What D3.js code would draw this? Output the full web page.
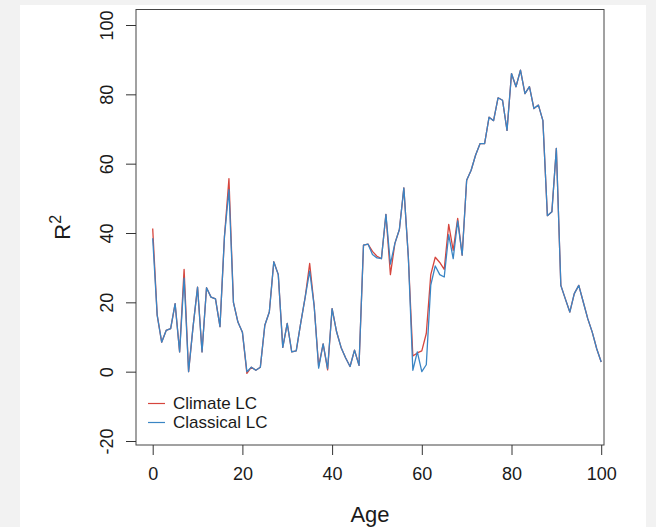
<!DOCTYPE html>
<html>
<head>
<meta charset="utf-8">
<script src="https://cdn.jsdelivr.net/npm/d3@7/dist/d3.min.js"></script>
<style>
  html, body { margin: 0; padding: 0; background: #f2f2f2; }
  svg { display: block; }
  text { font-family: "Liberation Sans", Arial, Helvetica, sans-serif; fill: #1a1a1a; }
</style>
</head>
<body>
<svg id="chart" width="656" height="527"></svg>
<script>
const ages = d3.range(0, 101);
const climateLC = [
  41.3, 16.3, 8.5, 11.9, 12.4, 19.6, 5.7, 29.5, 0.0, 13.0,
  24.4, 5.7, 24.2, 21.5, 21.0, 13.0, 39.0, 55.7, 20.0, 14.3,
  11.4, -0.5, 1.3, 0.4, 1.3, 13.4, 17.2, 31.7, 28.0, 7.0,
  13.9, 5.7, 6.0, 14.0, 21.5, 31.2, 19.0, 1.5, 8.0, 0.5,
  18.2, 11.5, 7.0, 4.0, 1.5, 6.2, 1.8, 36.5, 36.8, 34.7,
  33.3, 32.6, 45.4, 28.0, 37.0, 41.0, 53.0, 33.0, 4.5, 5.4,
  6.0, 11.0, 28.0, 33.0, 31.5, 29.5, 42.5, 35.0, 44.2, 33.6,
  55.2, 58.1, 62.5, 65.8, 65.8, 73.4, 72.4, 79.0, 78.3, 69.6,
  86.0, 82.2, 87.0, 80.2, 82.2, 75.9, 76.9, 72.4, 45.0, 46.1,
  64.4, 24.9, 21.0, 17.2, 22.5, 24.9, 20.1, 15.3, 11.4, 6.6,
  2.8
];
const classicalLC = [
  38.5, 16.3, 8.5, 11.9, 12.4, 19.6, 5.7, 27.0, 0.0, 13.0,
  24.4, 5.7, 24.2, 21.5, 21.0, 13.0, 39.0, 52.5, 20.0, 14.3,
  11.4, 0.0, 1.3, 0.4, 1.3, 13.4, 17.2, 31.7, 28.0, 7.0,
  13.9, 5.7, 6.0, 14.0, 21.5, 29.0, 19.0, 1.0, 8.0, 0.9,
  18.2, 11.5, 7.0, 4.0, 1.5, 6.2, 1.8, 36.5, 36.8, 33.8,
  32.8, 32.6, 45.4, 31.0, 37.0, 41.0, 53.0, 33.0, 0.4, 5.7,
  0.0, 2.0, 25.0, 30.5, 28.0, 27.3, 39.5, 32.6, 43.5, 33.6,
  55.2, 58.1, 62.5, 65.8, 65.8, 73.4, 72.4, 79.0, 78.3, 69.6,
  86.0, 82.2, 87.0, 80.2, 82.2, 75.9, 76.9, 72.4, 45.0, 46.1,
  64.4, 24.9, 21.0, 17.2, 22.5, 24.9, 20.1, 15.3, 11.4, 6.6,
  2.8
];
const xTicks = [0, 20, 40, 60, 80, 100];
const yTicks = [-20, 0, 20, 40, 60, 80, 100];
const seriesNames = ["Climate LC", "Classical LC"];
const seriesColors = ["#d6453d", "#3a85c4"];

const svg = d3.select("#chart");
svg.append("rect").attr("x", 20).attr("y", 5).attr("width", 626).attr("height", 522).attr("fill", "#ffffff");

const box = {left: 136, right: 604, top: 9.5, bottom: 445};
const x = d3.scaleLinear().domain([0, 100]).range([152.7, 601.2]);
const y = d3.scaleLinear().domain([-20, 100]).range([441, 25]);

const clipId = "plotclip";
svg.append("clipPath").attr("id", clipId).append("rect")
  .attr("x", box.left).attr("y", box.top).attr("width", box.right - box.left).attr("height", box.bottom - box.top);

const line = d3.line().x((d, i) => x(ages[i])).y(d => y(d));
const g = svg.append("g").attr("clip-path", `url(#${clipId})`);
[climateLC, classicalLC].forEach((s, k) => {
  g.append("path").datum(s).attr("d", line).attr("fill", "none")
    .attr("stroke", seriesColors[k]).attr("stroke-width", 1.3).attr("stroke-linejoin", "round");
});

svg.append("rect").attr("x", box.left).attr("y", box.top)
  .attr("width", box.right - box.left).attr("height", box.bottom - box.top)
  .attr("fill", "none").attr("stroke", "#444").attr("stroke-width", 1);

const fmt = d => String(d);
const xAxis = d3.axisBottom(x).tickValues(xTicks).tickSize(10).tickPadding(12).tickFormat(fmt);
const gx = svg.append("g").attr("transform", `translate(0,${box.bottom})`).call(xAxis);
gx.select(".domain").remove();
gx.selectAll("line").attr("stroke", "#333");
gx.selectAll("text").attr("font-size", 18).attr("fill", "#1a1a1a").style("font-family", '"Liberation Sans", Arial, sans-serif');

const yAxis = d3.axisLeft(y).tickValues(yTicks).tickSize(10).tickPadding(0).tickFormat(fmt);
const gy = svg.append("g").attr("transform", `translate(${box.left},0)`).call(yAxis);
gy.select(".domain").remove();
gy.selectAll("line").attr("stroke", "#333");
gy.selectAll("text")
  .attr("x", null).attr("dy", null)
  .attr("text-anchor", "middle")
  .attr("transform", "translate(-29,0) rotate(-90)")
  .attr("dy", "0.35em")
  .attr("font-size", 18).attr("fill", "#1a1a1a").style("font-family", '"Liberation Sans", Arial, sans-serif');

svg.append("text").attr("x", (box.left + box.right) / 2).attr("y", 522)
  .attr("text-anchor", "middle").attr("font-size", 22).text("Age");
const yt = svg.append("text").attr("transform", `translate(70,${(box.top + box.bottom) / 2}) rotate(-90)`)
  .attr("text-anchor", "middle").attr("font-size", 22);
yt.append("tspan").text("R");
yt.append("tspan").attr("dy", -9).attr("font-size", 16).text("2");

const leg = svg.append("g");
seriesNames.forEach((n, k) => {
  const ly = 403.5 + k * 19;
  leg.append("line").attr("x1", 148).attr("x2", 165).attr("y1", ly).attr("y2", ly)
    .attr("stroke", seriesColors[k]).attr("stroke-width", 1.2);
  leg.append("text").attr("x", 173).attr("y", ly).attr("dy", "0.35em")
    .attr("font-size", 17).text(n);
});
</script>
</body>
</html>
